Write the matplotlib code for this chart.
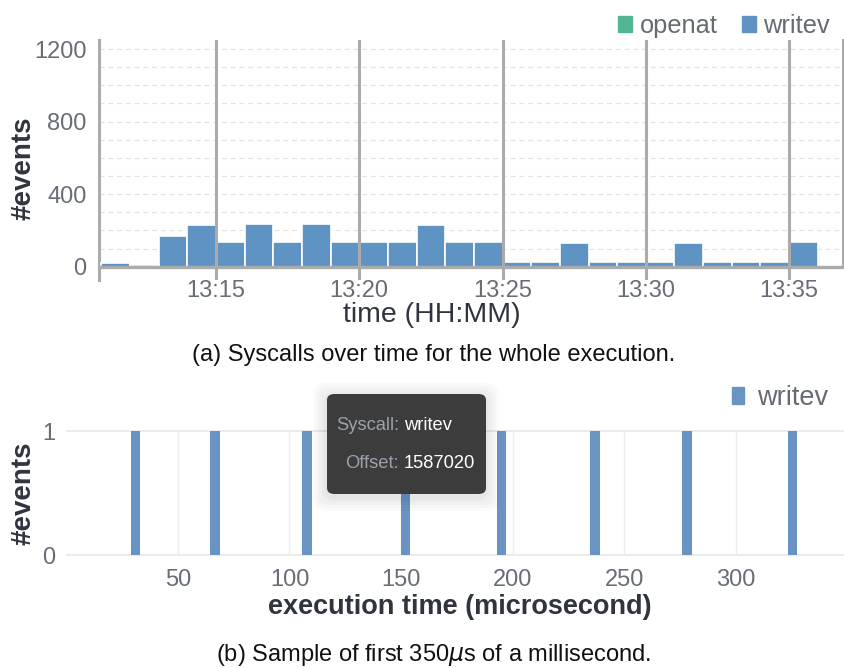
import numpy as np
import matplotlib
matplotlib.use('Agg')
import matplotlib.pyplot as plt
from matplotlib.patches import Patch, FancyBboxPatch

plt.rcParams['font.family'] = ['Liberation Sans', 'DejaVu Sans']

# (a) syscalls per minute, bars start at these minutes
minutes = ['13:11', '13:12', '13:13', '13:14', '13:15', '13:16', '13:17', '13:18', '13:19',
           '13:20', '13:21', '13:22', '13:23', '13:24', '13:25', '13:26', '13:27', '13:28',
           '13:29', '13:30', '13:31', '13:32', '13:33', '13:34', '13:35']
writev_counts = [20, 12, 167, 228, 136, 237, 138, 237, 138, 138, 138, 230, 134, 138,
                 28, 28, 129, 28, 28, 28, 129, 28, 28, 28, 138]
tick_labels = ['13:15', '13:20', '13:25', '13:30', '13:35']
y_ticks = [0, 400, 800, 1200]
legend_a = ['openat', 'writev']

# (b) sample of first 350 microseconds
event_times = [31, 66.5, 108, 152, 195, 237, 278, 325.5]
event_counts = [1, 1, 1, 1, 1, 1, 1, 1]
b_ticks = [50, 100, 150, 200, 250, 300]
tooltip_syscall = 'writev'
tooltip_offset = '1587020'

def to_min(s):
    h, m = s.split(':')
    return int(h) * 60 + int(m) - 13 * 60

W, H = 845, 668
fig = plt.figure(figsize=(W / 100, H / 100), dpi=100)

def fx(px): return px / W
def fy(py): return 1 - py / H

blue = '#5f93c3'
green = '#52b596'
gray_line = '#ababab'
tick_col = '#686d78'
label_col = '#30343e'

# ---------- top chart ----------
ax1 = fig.add_axes([fx(99), fy(280), fx(843) - fx(99), fy(40) - fy(280)])
xs = [to_min(m) for m in minutes]
ax1.bar(xs, writev_counts, width=1, align='edge', color=blue, edgecolor='white', linewidth=1.2, zorder=3)
ax1.set_xlim(10.92, 36.88)
ax1.set_ylim(-73, 1250)

for v in range(100, 1300, 100):
    ax1.axhline(v, color='#e3e3e3', linestyle=(0, (4, 3)), linewidth=0.9, zorder=1)
tick_pos = [to_min(t) for t in tick_labels]
for t in tick_pos:
    ax1.axvline(t, color=gray_line, linewidth=2.2, zorder=4)
ax1.axhline(0, color=gray_line, linewidth=2.4, zorder=4)

for s in ['top', 'bottom']:
    ax1.spines[s].set_visible(False)
ax1.spines['left'].set_color(gray_line)
ax1.spines['left'].set_linewidth(2.2)
ax1.spines['right'].set_color(gray_line)
ax1.spines['right'].set_linewidth(2.2)
ax1.spines['right'].set_bounds(0, 1250)

ax1.set_xticks(tick_pos)
ax1.set_xticklabels(tick_labels)
ax1.set_yticks(y_ticks)
ax1.tick_params(axis='both', length=0, labelsize=17, colors=tick_col)
ax1.tick_params(axis='x', pad=0)
ax1.tick_params(axis='y', pad=9)

fig.text(fx(432), fy(315), 'time (HH:MM)', ha='center', va='center', fontsize=20.5, color=label_col)
fig.text(fx(24), fy(168), '#events', ha='center', va='center', rotation=90, fontsize=20,
         fontweight='bold', color=label_col)

handles = [Patch(color=green), Patch(color=blue)]
ax1.legend(handles, legend_a, loc='upper right', bbox_to_anchor=(fx(830), fy(14)),
           bbox_transform=fig.transFigure, ncol=2, frameon=False, fontsize=18.3,
           labelcolor='#666a73', handlelength=0.55, handleheight=0.6, handletextpad=0.3,
           columnspacing=0.95, borderaxespad=0, borderpad=0)

fig.text(fx(434), fy(355), '(a) Syscalls over time for the whole execution.', ha='center',
         va='center', fontsize=17, color='#111111')

# ---------- bottom chart ----------
ax2 = fig.add_axes([fx(66.4), fy(565), 1 - fx(66.4), fy(420) - fy(565)])
ax2.set_xlim(0, 349)
ax2.set_ylim(-0.08, 1.089)
ax2.axhline(0, color='#e8e8e8', linewidth=1.2, zorder=1)
ax2.axhline(1, color='#e8e8e8', linewidth=1.2, zorder=1)
ax2.vlines(b_ticks, 0, 1, color='#ededed', linewidth=1, zorder=1)
ax2.bar(event_times, event_counts, width=4.4, color='#6893c2', zorder=3)
for s in ax2.spines.values():
    s.set_visible(False)
ax2.set_xticks(b_ticks)
ax2.set_yticks([0, 1])
ax2.tick_params(axis='both', length=0, labelsize=17, colors=tick_col)
ax2.tick_params(axis='x', pad=3)
ax2.tick_params(axis='y', pad=8)

fig.text(fx(460), fy(607), 'execution time (microsecond)', ha='center', va='center',
         fontsize=19.5, fontweight='bold', color=label_col)
fig.text(fx(24), fy(493), '#events', ha='center', va='center', rotation=90, fontsize=20,
         fontweight='bold', color=label_col)

ax2.legend([Patch(color='#6893c2')], ['writev'], loc='upper right',
           bbox_to_anchor=(fx(828), fy(385)), bbox_transform=fig.transFigure, frameon=False,
           fontsize=19.5, labelcolor='#666a73', handlelength=0.44, handleheight=0.6,
           handletextpad=0.48, borderaxespad=0, borderpad=0)

# tooltip with soft shadow
for g in [14, 11, 8, 5, 3]:
    sh = FancyBboxPatch((fx(327 - g), fy(494 + g + 3)), fx(158 + 2 * g), fy(394) - fy(494 + 2 * g),
                        boxstyle='round,pad=0,rounding_size=0.015', transform=fig.transFigure,
                        facecolor='black', edgecolor='none', alpha=0.018, zorder=9)
    fig.patches.append(sh)
tip = FancyBboxPatch((fx(327), fy(494)), fx(486) - fx(327), fy(394) - fy(494),
                     boxstyle='round,pad=0,rounding_size=0.009', transform=fig.transFigure,
                     facecolor='#3c3c3c', edgecolor='none', zorder=10)
fig.patches.append(tip)
fig.text(fx(399), fy(425), 'Syscall:', ha='right', va='center', fontsize=13.2, color='#9ba1aa', zorder=11)
fig.text(fx(404), fy(425), tooltip_syscall, ha='left', va='center', fontsize=13.2, color='white', zorder=11)
fig.text(fx(399), fy(464), 'Offset:', ha='right', va='center', fontsize=13.2, color='#9ba1aa', zorder=11)
fig.text(fx(404), fy(464), tooltip_offset, ha='left', va='center', fontsize=13.2, color='white', zorder=11)

fig.text(fx(433), fy(655), r'(b) Sample of first 350$\mu$s of a millisecond.', ha='center',
         va='center', fontsize=17, color='#111111')

fig.savefig('out.png', dpi=100)
